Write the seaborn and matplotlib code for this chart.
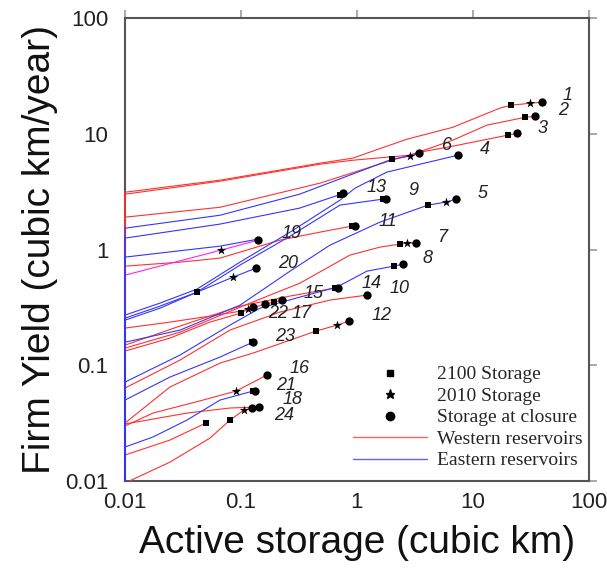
import pandas as pd
import matplotlib
matplotlib.use("Agg")
import matplotlib.pyplot as plt
import matplotlib.ticker as mticker
from matplotlib.lines import Line2D
import seaborn as sns

# Storage (cubic km) vs firm yield (cubic km/year), one pair of lists per reservoir curve
stor_01 = [0.01, 0.01, 0.066, 0.48, 0.92, 2.7, 6.7, 17.1, 21.3, 31.0, 39.3]
yld_01 = [0.01, 3.13, 3.98, 5.58, 6.17, 9.0, 11.4, 16.7, 17.7, 18.4, 18.8]
stor_02 = [0.01, 0.01, 0.066, 0.48, 0.92, 2.86, 6.7, 13.2, 28.1, 34.2]
yld_02 = [0.01, 3.01, 3.90, 5.47, 5.92, 6.54, 8.82, 11.9, 13.9, 14.2]
stor_03 = [0.01, 0.01, 0.066, 0.48, 2.0, 3.49, 6.7, 20.0, 23.9]
yld_03 = [0.01, 1.905, 2.32, 3.75, 5.92, 6.95, 7.83, 9.75, 10.1]
stor_04 = [0.01, 0.01, 0.02, 0.0418, 0.098, 0.265, 0.713, 0.961, 1.81, 7.42]
yld_04 = [0.01, 0.271, 0.344, 0.455, 0.778, 1.414, 2.67, 3.39, 4.67, 6.54]
stor_05 = [0.01, 0.01, 0.0298, 0.098, 0.265, 0.585, 1.58, 4.09, 5.85, 7.13]
yld_05 = [0.01, 0.158, 0.201, 0.330, 0.650, 1.091, 1.725, 2.42, 2.57, 2.73]
stor_06 = [0.01, 0.01, 0.066, 0.32, 2.0, 2.86, 3.42]
yld_06 = [0.01, 1.53, 1.98, 3.01, 6.04, 6.42, 6.81]
stor_07 = [0.01, 0.01, 0.0298, 0.1196, 0.3226, 0.87, 1.58, 2.35, 2.70, 3.23]
yld_07 = [0.01, 0.1405, 0.193, 0.344, 0.512, 0.895, 1.049, 1.113, 1.136, 1.136]
stor_08 = [0.01, 0.01, 0.0298, 0.0804, 0.1458, 0.3226, 0.672, 1.22, 2.08, 2.49]
yld_08 = [0.01, 0.0714, 0.1223, 0.222, 0.311, 0.388, 0.473, 0.650, 0.718, 0.748]
stor_09 = [0.01, 0.01, 0.02, 0.0418, 0.098, 0.265, 0.713, 1.68, 1.78]
yld_09 = [0.01, 0.255, 0.324, 0.428, 0.733, 1.305, 2.42, 2.73, 2.73]
stor_10 = [0.01, 0.01, 0.0298, 0.0804, 0.217, 0.585, 1.22]
yld_10 = [0.01, 0.0634, 0.1107, 0.2011, 0.2877, 0.3653, 0.4035]
stor_11 = [0.01, 0.01, 0.0298, 0.066, 0.217, 0.48, 0.905, 0.961]
yld_11 = [0.01, 0.718, 0.778, 0.843, 1.206, 1.414, 1.594, 1.594]
stor_12 = [0.01, 0.01, 0.0244, 0.066, 0.127, 0.443, 0.672, 0.853]
yld_12 = [0.01, 0.0316, 0.0647, 0.1042, 0.1272, 0.197, 0.222, 0.2405]
stor_13 = [0.01, 0.01, 0.066, 0.32, 0.71, 0.757]
yld_13 = [0.01, 1.255, 1.66, 2.28, 2.98, 3.07]
stor_15 = [0.01, 0.01, 0.0298, 0.098, 0.265, 0.646, 0.686]
yld_15 = [0.01, 0.149, 0.218, 0.324, 0.396, 0.464, 0.464]
stor_16 = [0.01, 0.01, 0.0174, 0.047, 0.0906, 0.1675]
yld_16 = [0.01, 0.0298, 0.0385, 0.0499, 0.0597, 0.0821]
stor_17 = [0.01, 0.01, 0.0244, 0.054, 0.1, 0.161, 0.1925, 0.2257]
yld_17 = [0.01, 0.2092, 0.2357, 0.2656, 0.2935, 0.3371, 0.3509, 0.3653]
stor_18 = [0.01, 0.01, 0.0342, 0.0804, 0.143]
yld_18 = [0.01, 0.031, 0.0385, 0.0426, 0.0434]
stor_19 = [0.01, 0.01, 0.066, 0.14]
yld_19 = [0.01, 0.86, 1.07, 1.23]
stor_19m = [0.01, 0.01, 0.0672, 0.14]
yld_19m = [0.01, 0.60, 0.988, 1.206]
stor_20 = [0.01, 0.01, 0.02, 0.0418, 0.0853, 0.1347]
yld_20 = [0.01, 0.245, 0.311, 0.428, 0.577, 0.69]
stor_21 = [0.01, 0.01, 0.0174, 0.0342, 0.066, 0.127, 0.132]
yld_21 = [0.01, 0.0196, 0.0239, 0.0335, 0.0499, 0.0597, 0.0597]
stor_22 = [0.01, 0.01, 0.0244, 0.054, 0.1, 0.115, 0.127]
yld_22 = [0.01, 0.1324, 0.1714, 0.2357, 0.282, 0.3054, 0.3178]
stor_23 = [0.01, 0.01, 0.0244, 0.066, 0.127]
yld_23 = [0.01, 0.0499, 0.0789, 0.1175, 0.1584]
stor_24 = [0.011, 0.0244, 0.054, 0.0804, 0.1061, 0.1244]
yld_24 = [0.01, 0.0145, 0.0234, 0.0335, 0.0409, 0.0426]
stor_25 = [0.01, 0.01, 0.0244, 0.0499]
yld_25 = [0.01, 0.0167, 0.0225, 0.0316]

# which group each curve belongs to
curves = [
    ("1", "west", stor_01, yld_01), ("2", "west", stor_02, yld_02),
    ("3", "west", stor_03, yld_03), ("7", "west", stor_07, yld_07),
    ("10", "west", stor_10, yld_10), ("11", "west", stor_11, yld_11),
    ("12", "west", stor_12, yld_12), ("15", "west", stor_15, yld_15),
    ("16", "west", stor_16, yld_16), ("17", "west", stor_17, yld_17),
    ("18", "west", stor_18, yld_18), ("22", "west", stor_22, yld_22),
    ("24", "west", stor_24, yld_24), ("25", "west", stor_25, yld_25),
    ("4", "east", stor_04, yld_04), ("5", "east", stor_05, yld_05),
    ("6", "east", stor_06, yld_06), ("8", "east", stor_08, yld_08),
    ("9", "east", stor_09, yld_09), ("13", "east", stor_13, yld_13),
    ("19", "east", stor_19, yld_19), ("20", "east", stor_20, yld_20),
    ("21", "east", stor_21, yld_21), ("23", "east", stor_23, yld_23),
    ("19m", "mixed", stor_19m, yld_19m),
]

# markers: 2100 storage, 2010 storage, storage at closure
sq_stor = [21.3, 28.1, 20.0, 2.0, 0.71, 1.68, 0.0418, 0.905, 4.09, 2.35, 2.08, 0.443, 0.124, 0.1, 0.1925, 0.646, 0.127, 0.0804, 0.0499]
sq_yld = [17.7, 13.9, 9.75, 6.04, 2.98, 2.73, 0.428, 1.594, 2.42, 1.113, 0.718, 0.197, 0.158, 0.282, 0.351, 0.464, 0.0597, 0.0335, 0.0316]
star_stor = [31.0, 2.86, 5.85, 0.0672, 0.0853, 2.70, 0.672, 0.115, 0.0906, 0.1061]
star_yld = [18.4, 6.42, 2.57, 0.988, 0.577, 1.136, 0.222, 0.305, 0.0597, 0.0409]
close_stor = [39.3, 34.2, 23.9, 3.42, 0.757, 7.42, 1.78, 0.14, 0.1347, 0.961, 7.13, 3.23, 2.49, 1.22, 0.853, 0.127, 0.127, 0.161, 0.2257, 0.686, 0.1675, 0.132, 0.143, 0.1244]
close_yld = [18.8, 14.2, 10.1, 6.81, 3.07, 6.54, 2.73, 1.206, 0.69, 1.594, 2.73, 1.136, 0.748, 0.4035, 0.2405, 0.158, 0.318, 0.337, 0.365, 0.464, 0.0821, 0.0597, 0.0434, 0.0426]

# reservoir number labels
label_text = [str(i) for i in range(1, 25)]
label_x = [65.9, 59.7, 40.1, 12.7, 12.2, 5.97, 5.4, 4.09, 3.04, 2.35, 1.85, 1.64, 1.49, 1.35, 0.426, 0.323, 0.336, 0.281, 0.275, 0.254, 0.244, 0.208, 0.239, 0.235]
label_y = [21.6, 16.0, 11.2, 7.38, 3.07, 7.99, 1.28, 0.843, 3.26, 0.464, 1.758, 0.271, 3.46, 0.512, 0.42, 0.0944, 0.282, 0.05, 1.387, 0.763, 0.0673, 0.282, 0.178, 0.037]

rows = []
for name, region, s, y in curves:
    for i, (a, b) in enumerate(zip(s, y)):
        rows.append({"curve": name, "region": region, "step": i, "storage": a, "yield": b})
df = pd.DataFrame(rows)

sns.set_theme(style="white")
plt.rcParams["font.family"] = ["Liberation Sans", "DejaVu Sans"]

fig = plt.figure(figsize=(6.07, 5.71), dpi=100)
ax = fig.add_axes([0.206, 0.158, 0.764, 0.810])
ax.set_xscale("log")
ax.set_yscale("log")

palette = {"west": "#ff3030", "east": "#3434ff", "mixed": "#ff20ff"}
sns.lineplot(data=df, x="storage", y="yield", hue="region", units="curve",
             hue_order=["west", "mixed", "east"],
             estimator=None, sort=False, palette=palette, linewidth=0.8,
             legend=False, ax=ax, zorder=3, clip_on=False)

sns.scatterplot(x=sq_stor, y=sq_yld, marker="s", color="black", s=20, linewidth=0, ax=ax, zorder=5)
sns.scatterplot(x=star_stor, y=star_yld, marker="*", color="black", s=50, linewidth=0, ax=ax, zorder=5)
sns.scatterplot(x=close_stor, y=close_yld, marker="o", color="black", s=36, linewidth=0, ax=ax, zorder=5)

for t, lx, ly in zip(label_text, label_x, label_y):
    ax.text(lx, ly, t, fontsize=13, fontstyle="italic", ha="center", va="center", color="#222222")

ax.set_xlim(0.01, 100)
ax.set_ylim(0.01, 100)
ticks = [0.01, 0.1, 1, 10, 100]
ax.set_xticks(ticks)
ax.set_yticks(ticks)
fmt = mticker.FuncFormatter(lambda v, p: f"{v:g}")
ax.xaxis.set_major_formatter(fmt)
ax.yaxis.set_major_formatter(fmt)
ax.xaxis.set_minor_locator(mticker.NullLocator())
ax.yaxis.set_minor_locator(mticker.NullLocator())
ax.tick_params(axis="both", which="major", direction="out", length=6, width=1.2,
               color="#999999", labelsize=16, labelcolor="#222222")
ax.tick_params(axis="x", top=True, pad=2)
ax.tick_params(axis="y", right=True, pad=6)
for sp in ax.spines.values():
    sp.set_color("#555555")
    sp.set_linewidth(1.5)

ax.set_xlabel("Active storage (cubic km)", fontsize=28, color="#111111", labelpad=9)
ax.set_ylabel("Firm Yield (cubic km/year)", fontsize=28, color="#111111", labelpad=5)

handles = [
    Line2D([], [], marker="s", color="black", linestyle="none", markersize=4.5),
    Line2D([], [], marker="*", color="black", linestyle="none", markersize=6.5),
    Line2D([], [], marker="o", color="black", linestyle="none", markersize=6),
    Line2D([], [], color="#ff6060", linewidth=1),
    Line2D([], [], color="#6060ff", linewidth=1),
]
names = ["2100 Storage", "2010 Storage", "Storage at closure", "Western reservoirs", "Eastern reservoirs"]
ax.legend(handles, names, loc="lower right", bbox_to_anchor=(1.015, -0.005), frameon=False,
          prop={"family": "Liberation Serif", "size": 14}, handlelength=3.8,
          handletextpad=0.5, labelspacing=0.2, borderaxespad=0.3)

fig.savefig("out.png", dpi=100)
